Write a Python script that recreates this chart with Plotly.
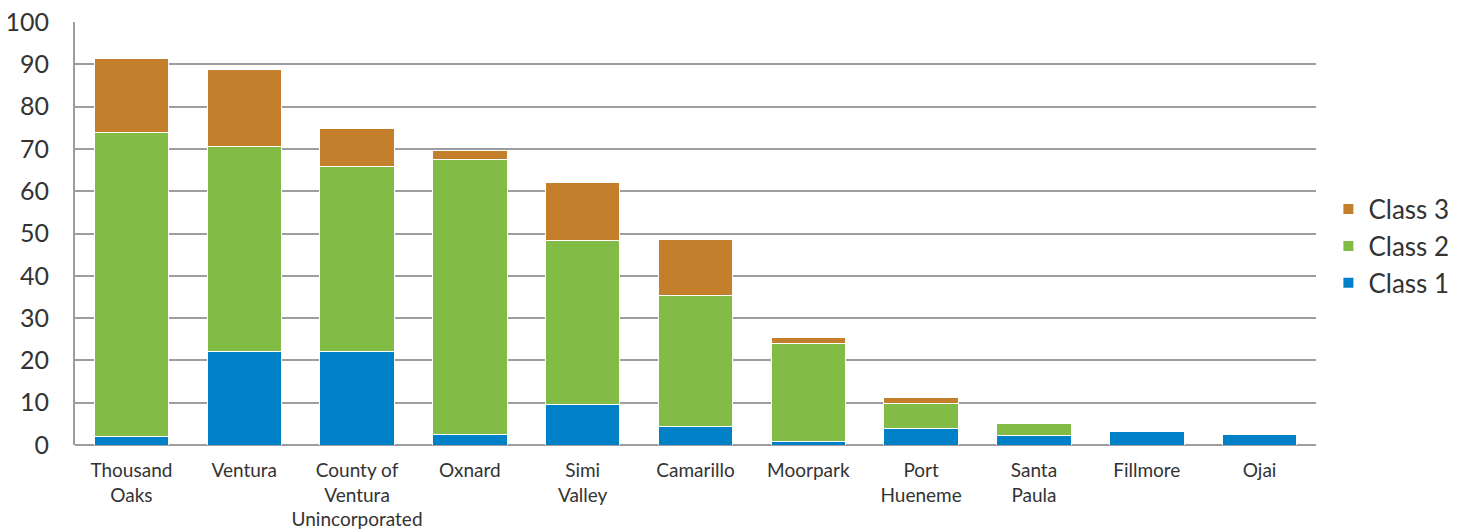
import plotly.graph_objects as go

ciudades = ['Thousand<br>Oaks', 'Ventura', 'County of<br>Ventura<br>Unincorporated', 'Oxnard',
            'Simi<br>Valley', 'Camarillo', 'Moorpark', 'Port<br>Hueneme', 'Santa<br>Paula',
            'Fillmore', 'Ojai']
class_1 = [1.9, 22.1, 22.1, 2.6, 9.5, 4.4, 0.8, 3.8, 2.3, 3.1, 2.6]
class_2 = [71.9, 48.4, 43.8, 64.9, 38.9, 30.9, 23.3, 5.9, 2.8, 0, 0]
class_3 = [17.6, 18.3, 8.9, 2.2, 13.7, 13.3, 1.3, 1.5, 0, 0, 0]

fig = go.Figure()
for nome, vals, cor in [('Class 1', class_1, '#0080C6'),
                        ('Class 2', class_2, '#82BC47'),
                        ('Class 3', class_3, '#C47F2C')]:
    fig.add_trace(go.Bar(
        x=ciudades, y=vals, name=nome,
        marker=dict(color=cor, line=dict(color='white', width=1)),
    ))

# a pagina tem margem de 8px no body
fig.update_layout(
    barmode='stack',
    bargap=0.34,
    width=1458, height=523,
    margin=dict(l=67, r=148, t=14, b=86),
    plot_bgcolor='white', paper_bgcolor='white',
    font=dict(family='Lato', color='#333333'),
    legend=dict(
        traceorder='reversed',
        x=1.01, xanchor='left', y=0.47, yanchor='middle',
        font=dict(size=26), itemsizing='constant',
        tracegroupgap=0,
    ),
)
fig.update_yaxes(
    range=[0, 100], dtick=10, automargin=False,
    showgrid=True, gridcolor='#9d9da1', gridwidth=2,
    showline=True, linecolor='#9d9da1', linewidth=2,
    zeroline=True, zerolinecolor='#9d9da1', zerolinewidth=2,
    tickfont=dict(size=25, color='#333333'),
    ticks='', ticklabelstandoff=19, ticklabeloverflow='allow',
)
fig.update_xaxes(
    showline=False, showgrid=False, automargin=False,
    tickfont=dict(size=19, color='#333333'),
    ticks='', ticklabelstandoff=12, ticklabeloverflow='allow',
)

fig.write_html("out.html")
